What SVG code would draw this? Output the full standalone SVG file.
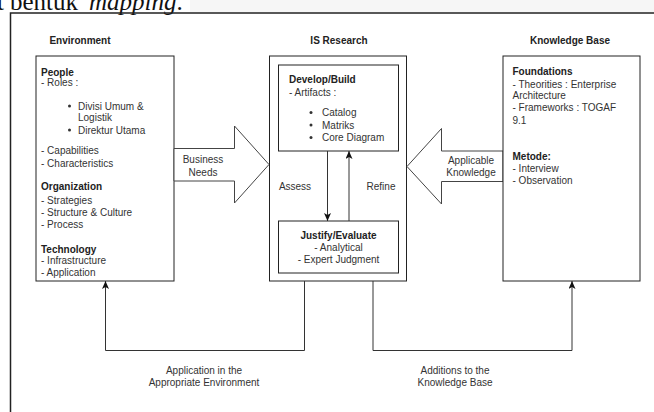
<svg xmlns="http://www.w3.org/2000/svg" width="654" height="412" viewBox="0 0 654 412">
<style>
.t{font-family:"Liberation Sans",Arial,sans-serif;font-size:10px;fill:#333}
.b{font-family:"Liberation Sans",Arial,sans-serif;font-size:10px;font-weight:bold;fill:#222}
.c{text-anchor:middle}
.box{fill:#fff;stroke:#222;stroke-width:1}
.big{fill:#fff;stroke:#444;stroke-width:1}
.ln{fill:none;stroke:#333;stroke-width:1}
.doc{font-family:"Liberation Serif","Times New Roman",serif;font-size:25px;fill:#111}
</style>
<defs>
<marker id="ah" markerUnits="userSpaceOnUse" markerWidth="9" markerHeight="8" refX="8" refY="3.5" orient="auto">
<path d="M0,0 L8,3.5 L0,7 L2,3.5 z" fill="#111"/>
</marker>
</defs>
<rect x="0" y="0" width="654" height="412" fill="#fff"/>
<rect x="190" y="0" width="464" height="12" fill="#f6f6f6"/>
<text class="doc" x="4" y="10" text-anchor="end">t</text>
<text class="doc" x="10" y="10">bentuk</text>
<text class="doc" x="89" y="10" font-style="italic">mapping<tspan font-style="normal">.</tspan></text>
<path d="M10.5,412 V13 H654" fill="none" stroke="#222" stroke-width="1.5"/>

<g id="headers">
<text class="b c" x="80" y="44">Environment</text>
<text class="b c" x="339" y="44">IS Research</text>
<text class="b c" x="570" y="44">Knowledge Base</text>
</g>

<g id="environment">
<rect class="box" x="36" y="56" width="138" height="225"/>
<text class="b" x="41" y="76">People</text>
<text class="t" x="41" y="86">- Roles :</text>
<circle cx="69.5" cy="106" r="1.5" fill="#333"/>
<text class="t" x="78" y="109.5">Divisi Umum &amp;</text>
<text class="t" x="78" y="121">Logistik</text>
<circle cx="69.5" cy="130" r="1.5" fill="#333"/>
<text class="t" x="78" y="133.5">Direktur Utama</text>
<text class="t" x="41" y="154">- Capabilities</text>
<text class="t" x="41" y="167">- Characteristics</text>
<text class="b" x="41" y="189.5">Organization</text>
<text class="t" x="41" y="203.5">- Strategies</text>
<text class="t" x="41" y="216">- Structure &amp; Culture</text>
<text class="t" x="41" y="227.5">- Process</text>
<text class="b" x="41" y="253">Technology</text>
<text class="t" x="41" y="264">- Infrastructure</text>
<text class="t" x="41" y="276">- Application</text>
</g>

<g id="business-needs">
<polygon class="big" points="174,148.5 234.5,148.5 234.5,126 269,164.5 234.5,203 234.5,181 174,181"/>
<text class="t c" x="203" y="163">Business</text>
<text class="t c" x="203" y="175.5">Needs</text>
</g>

<g id="is-research">
<rect class="box" x="269.5" y="56" width="137" height="225"/>
</g>

<g id="develop-build">
<rect class="box" x="278.5" y="65" width="120" height="86"/>
<text class="b" x="289" y="82.5">Develop/Build</text>
<text class="t" x="289" y="96">- Artifacts :</text>
<circle cx="311" cy="112.5" r="1.5" fill="#333"/>
<text class="t" x="322" y="116">Catalog</text>
<circle cx="311" cy="125" r="1.5" fill="#333"/>
<text class="t" x="322" y="128.5">Matriks</text>
<circle cx="311" cy="137.5" r="1.5" fill="#333"/>
<text class="t" x="322" y="141">Core Diagram</text>
</g>

<g id="justify-evaluate">
<rect class="box" x="278.5" y="221" width="120" height="52"/>
<text class="b c" x="338.5" y="238.5">Justify/Evaluate</text>
<text class="t c" x="338.5" y="251">- Analytical</text>
<text class="t c" x="338.5" y="262.5">- Expert Judgment</text>
</g>

<g id="applicable-knowledge">
<polygon class="big" points="503,151 441.5,151 441.5,128.5 407,166.5 441.5,204 441.5,181.5 503,181.5"/>
<text class="t c" x="471" y="163.5">Applicable</text>
<text class="t c" x="471" y="176">Knowledge</text>
</g>

<g id="knowledge-base">
<rect class="box" x="503" y="56" width="137" height="225"/>
<text class="b" x="512.5" y="75">Foundations</text>
<text class="t" x="512.5" y="87.5">- Theorities : Enterprise</text>
<text class="t" x="512.5" y="99">Architecture</text>
<text class="t" x="512.5" y="111">- Frameworks : TOGAF</text>
<text class="t" x="512.5" y="124">9.1</text>
<text class="b" x="512.5" y="160">Metode:</text>
<text class="t" x="512.5" y="172">- Interview</text>
<text class="t" x="512.5" y="183.5">- Observation</text>
</g>

<g id="connectors">
<line class="ln" x1="327.5" y1="151" x2="327.5" y2="221" marker-end="url(#ah)"/>
<line class="ln" x1="349" y1="221" x2="349" y2="151" marker-end="url(#ah)"/>
<text class="t c" x="295" y="189.5">Assess</text>
<text class="t c" x="381" y="189.5">Refine</text>
<path class="ln" d="M304.5,281 V350.5 H105.5 V281" marker-end="url(#ah)"/>
<path class="ln" d="M373,281 V350.5 H572 V281" marker-end="url(#ah)"/>
<text class="t c" x="204" y="373.5">Application in the</text>
<text class="t c" x="204" y="386">Appropriate Environment</text>
<text class="t c" x="455" y="373.5">Additions to the</text>
<text class="t c" x="455" y="386">Knowledge Base</text>
</g>
</svg>
